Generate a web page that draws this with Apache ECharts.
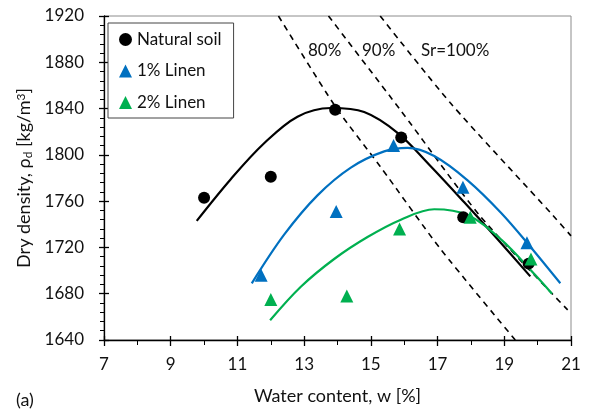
<!DOCTYPE html>
<html>
<head>
<meta charset="utf-8">
<script src="https://cdn.jsdelivr.net/npm/echarts@6/dist/echarts.min.js"></script>
<style>
html,body{margin:0;padding:0;background:#fff;}
#c{width:589px;height:412px;}
</style>
</head>
<body>
<div id="c"></div>
<script>
// Measured data points [water content %, dry density kg/m3]
var naturalSoil = [[10.0,1763],[12.0,1781],[13.93,1839],[15.91,1815],[17.77,1746],[19.73,1706]];
var linen1 = [[11.71,1696],[13.96,1751],[15.68,1808],[17.76,1772],[19.68,1724]];
var linen2 = [[12.0,1675],[14.28,1678],[15.86,1736],[17.98,1746],[19.8,1710]];

// Fitted trend curves
var naturalFit = [[9.78,1743],[10.8,1779],[11.8,1810],[12.8,1833],[13.8,1840.5],[14.8,1837],[15.8,1819],[16.8,1790],[17.8,1759],[18.8,1727],[19.78,1695]];
var linen1Fit = [[11.43,1689],[12.4,1731],[13.4,1765],[14.4,1789],[15.4,1803],[16.1,1806],[16.9,1799],[17.9,1778],[18.9,1750],[19.8,1720],[20.68,1689]];
var linen2Fit = [[11.98,1657],[12.9,1686],[13.9,1710],[14.9,1729],[15.9,1744],[16.9,1753],[17.9,1748],[18.9,1727],[19.9,1697],[20.43,1680]];

// Saturation lines
var sat80 = [[12.23,1920],[13.93,1842],[15.28,1790],[17.08,1719],[19.33,1640]];
var sat90 = [[13.73,1920],[15.88,1839],[18.28,1747],[20.9,1666]];
var sat100 = [[15.28,1920],[17.38,1845],[20.48,1747],[21.0,1730]];

var satLabels = ['80%','90%','Sr=100%'];
var seriesNames = ['Natural soil','1% Linen','2% Linen'];
var xTicks = {min:7, max:21, interval:2};
var yTicks = {min:1640, max:1920, interval:40};

var FONT = 'Lato';
var chart = echarts.init(document.getElementById('c'), null, {renderer:'canvas'});

function dashed(data){
  return {type:'line', data:data, showSymbol:false, smooth:0.25, silent:true,
    lineStyle:{color:'#000', width:1.6, type:[6,5]}, z:2};
}
function fit(data,color){
  return {type:'line', data:data, showSymbol:false, smooth:0.35, silent:true,
    lineStyle:{color:color, width:2.2}, z:3};
}

var option = {
  animation:false,
  textStyle:{fontFamily:FONT},
  grid:{left:104, right:18, top:16, bottom:72, show:true, borderColor:'#8c8c8c', borderWidth:1},
  legend:{
    data:[{name:seriesNames[0], icon:'circle'},{name:seriesNames[1], icon:'triangle'},{name:seriesNames[2], icon:'triangle'}],
    orient:'vertical', left:108, top:23, itemWidth:13, itemHeight:13, itemGap:14.5,
    padding:[8,12,7,11], borderColor:'#444', borderWidth:1, backgroundColor:'#fff',
    textStyle:{fontFamily:FONT, fontSize:17, color:'#111'}, z:10
  },
  xAxis:[{
    type:'value', min:xTicks.min, max:xTicks.max, interval:xTicks.interval, position:'bottom',
    name:'Water content, w [%]', nameLocation:'middle', nameGap:47,
    nameTextStyle:{fontFamily:FONT, fontSize:18, color:'#111'},
    axisLine:{show:true, lineStyle:{color:'#000', width:1.3}},
    axisTick:{show:true, inside:false, length:6, lineStyle:{color:'#000', width:1.3}},
    minorTick:{show:true, splitNumber:2, length:5, lineStyle:{color:'#000', width:1}},
    axisLabel:{fontFamily:FONT, fontSize:17, color:'#111', margin:16},
    splitLine:{show:false}
  },{
    type:'value', min:xTicks.min, max:xTicks.max, interval:xTicks.interval, position:'bottom',
    axisLine:{show:false}, axisLabel:{show:false}, splitLine:{show:false},
    axisTick:{show:true, inside:true, length:4, lineStyle:{color:'#000', width:1.3}}
  }],
  yAxis:[{
    type:'value', min:yTicks.min, max:yTicks.max, interval:yTicks.interval, position:'left',
    name:'{n|Dry density, ρ}{sub|d}{n| [kg/m}{sup|3}{n|]}', nameLocation:'middle', nameGap:70, nameRotate:90,
    nameTextStyle:{rich:{
      n:{fontFamily:FONT, fontSize:18, color:'#111'},
      sub:{fontFamily:FONT, fontSize:12, color:'#111', verticalAlign:'bottom', padding:[6,0,0,0]},
      sup:{fontFamily:FONT, fontSize:12, color:'#111', verticalAlign:'top', padding:[0,0,7,0]}
    }},
    axisLine:{show:true, lineStyle:{color:'#000', width:1.3}},
    axisTick:{show:true, inside:false, length:5, lineStyle:{color:'#000', width:1.3}},
    minorTick:{show:true, splitNumber:5, length:4, lineStyle:{color:'#000', width:1}},
    axisLabel:{fontFamily:FONT, fontSize:17, color:'#111', margin:20, formatter:function(v){return String(v);}},
    splitLine:{show:false}
  },{
    type:'value', min:yTicks.min, max:yTicks.max, interval:yTicks.interval, position:'left',
    axisLine:{show:false}, axisLabel:{show:false}, splitLine:{show:false},
    axisTick:{show:true, inside:true, length:5, lineStyle:{color:'#000', width:1.3}}
  }],
  graphic:[
    {type:'text', left:308, top:42, style:{text:satLabels[0], font:'17px '+FONT, fill:'#111'}},
    {type:'text', left:362, top:42, style:{text:satLabels[1], font:'17px '+FONT, fill:'#111'}},
    {type:'text', left:421, top:42, style:{text:satLabels[2], font:'17px '+FONT, fill:'#111'}},
    {type:'text', left:16, top:391, style:{text:'(a)', font:'18px '+FONT, fill:'#111'}}
  ],
  series:[
    dashed(sat80), dashed(sat90), dashed(sat100),
    fit(naturalFit,'#000000'), fit(linen1Fit,'#0070C0'), fit(linen2Fit,'#00B050'),
    {name:seriesNames[0], type:'scatter', data:naturalSoil, symbol:'circle', symbolSize:12, itemStyle:{color:'#000', opacity:1}, z:5},
    {name:seriesNames[1], type:'scatter', data:linen1, symbol:'triangle', symbolSize:13, itemStyle:{color:'#0070C0', opacity:1}, z:5},
    {name:seriesNames[2], type:'scatter', data:linen2, symbol:'triangle', symbolSize:13, itemStyle:{color:'#00B050', opacity:1}, z:5}
  ]
};
chart.setOption(option);
</script>
</body>
</html>
